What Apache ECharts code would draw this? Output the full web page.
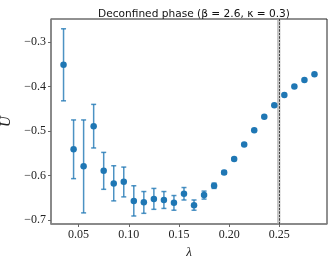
<!DOCTYPE html>
<html>
<head>
<meta charset="utf-8">
<script src="https://cdn.jsdelivr.net/npm/echarts@6/dist/echarts.min.js"></script>
<style>html,body{margin:0;padding:0;background:#fff}#c{width:333px;height:261px}</style>
</head>
<body>
<div id="c"></div>
<script>
var lambdas = [0.035,0.045,0.055,0.065,0.075,0.085,0.095,0.105,0.115,0.125,0.135,0.145,0.155,0.165,0.175,0.185,0.195,0.205,0.215,0.225,0.235,0.245,0.255,0.265,0.275,0.285];
var values  = [-0.351,-0.541,-0.579,-0.489,-0.589,-0.618,-0.614,-0.657,-0.660,-0.653,-0.655,-0.661,-0.641,-0.667,-0.644,-0.623,-0.593,-0.563,-0.530,-0.498,-0.468,-0.442,-0.419,-0.400,-0.385,-0.372];
var errLow  = [-0.432,-0.607,-0.684,-0.538,-0.631,-0.657,-0.648,-0.691,-0.685,-0.676,-0.674,-0.678,-0.655,-0.678,-0.653,-0.629,-0.597,-0.566,-0.532,-0.500,-0.470,-0.444,-0.421,-0.402,-0.387,-0.374];
var errHigh = [-0.270,-0.475,-0.475,-0.440,-0.548,-0.578,-0.581,-0.623,-0.636,-0.629,-0.636,-0.645,-0.627,-0.655,-0.635,-0.617,-0.589,-0.560,-0.528,-0.496,-0.466,-0.440,-0.417,-0.398,-0.383,-0.370];
var xTicks = [0.05,0.10,0.15,0.20,0.25];
var yTicks = [-0.7,-0.6,-0.5,-0.4,-0.3];
var bandEdges = [0.2477,0.2511];

var pts = lambdas.map(function(l,i){return [l, values[i]];});
var errs = lambdas.map(function(l,i){return [l, errLow[i], errHigh[i]];});
var serif = 'Liberation Serif';
var chart = echarts.init(document.getElementById('c'), null, {renderer:'canvas'});
chart.setOption({
  animation:false,
  backgroundColor:'#fff',
  title:{
    text:'Deconfined phase (β = 2.6, κ = 0.3)',
    left:189, top:4, textAlign:'center',
    textStyle:{fontFamily:'DejaVu Sans',fontWeight:'normal',fontSize:10.6,color:'#111'}
  },
  grid:{left:51,right:6,top:19,bottom:37,outerBoundsMode:'none',containLabel:false,show:true,borderColor:'#222',borderWidth:1,backgroundColor:'transparent'},
  xAxis:{
    type:'value', min:0.0225, max:0.2975,
    name:'λ', nameLocation:'middle', nameGap:22,
    nameTextStyle:{fontFamily:serif,fontStyle:'italic',fontSize:13,color:'#222'},
    axisLine:{show:true,lineStyle:{color:'#888',width:1.5}},
    axisTick:{show:true,length:3,lineStyle:{color:'#666'},customValues:xTicks},
    axisLabel:{fontFamily:serif,fontSize:12,color:'#222',margin:5,customValues:xTicks,
      formatter:function(v){return v.toFixed(2);}},
    splitLine:{show:false}
  },
  yAxis:{
    type:'value', min:-0.709, max:-0.248,
    name:'Û', nameLocation:'middle', nameGap:35, nameRotate:90,
    nameTextStyle:{fontFamily:serif,fontStyle:'italic',fontSize:15,color:'#222'},
    axisLine:{show:true,lineStyle:{color:'#888',width:1.5}},
    axisTick:{show:true,length:3,lineStyle:{color:'#666'},customValues:yTicks},
    axisLabel:{fontFamily:serif,fontSize:12,color:'#222',margin:5,customValues:yTicks,
      formatter:function(v){return '\u2212'+Math.abs(v).toFixed(1);}},
    splitLine:{show:false}
  },
  series:[
    {
      type:'custom',
      data:errs,
      z:2,
      renderItem:function(params,api){
        var x=api.value(0);
        var lo=api.coord([x,api.value(1)]);
        var hi=api.coord([x,api.value(2)]);
        var c=2.5;
        var st={stroke:'rgba(31,119,180,0.8)',lineWidth:1.5};
        return {type:'group',children:[
          {type:'line',shape:{x1:lo[0],y1:lo[1],x2:hi[0],y2:hi[1]},style:st},
          {type:'line',shape:{x1:lo[0]-c,y1:lo[1],x2:lo[0]+c,y2:lo[1]},style:st},
          {type:'line',shape:{x1:hi[0]-c,y1:hi[1],x2:hi[0]+c,y2:hi[1]},style:st}
        ]};
      }
    },
    {
      type:'scatter',
      data:pts,
      symbol:'circle',
      symbolSize:6.5,
      z:3,
      itemStyle:{color:'#1f77b4',opacity:1},
      markArea:{silent:true,itemStyle:{color:'rgba(160,160,160,0.6)'},
        data:[[{xAxis:bandEdges[0]},{xAxis:bandEdges[1]}]]},
      markLine:{silent:true,symbol:'none',label:{show:false},
        lineStyle:{color:'#444',type:[2,1.5],width:1},
        data:[{xAxis:bandEdges[0]},{xAxis:bandEdges[1]}]}
    }
  ]
});
</script>
</body>
</html>
